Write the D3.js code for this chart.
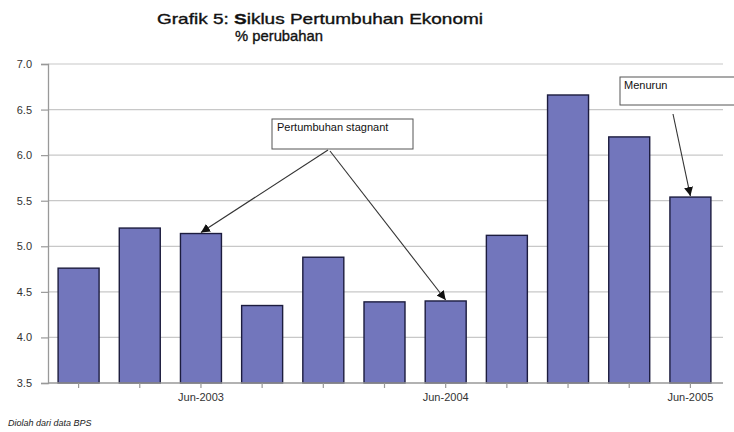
<!DOCTYPE html>
<html>
<head>
<meta charset="utf-8">
<script src="https://cdn.jsdelivr.net/npm/d3@7"></script>
<style>
  html, body { margin: 0; padding: 0; background: #fff; }
  svg { display: block; }
  .title { font-family: "Liberation Sans", Arial, sans-serif; fill: #111; stroke: #111; stroke-width: 0.35; }
  .tick text { font-family: "Liberation Sans", Arial, sans-serif; font-size: 11px; fill: #333; }
  .note { font-family: "Liberation Sans", Arial, sans-serif; font-size: 11px; fill: #111; }
</style>
</head>
<body>
<svg id="chart" width="734" height="432"></svg>
<script>
// Quarterly GDP growth, % change
const quarters = ["Dec-2002", "Mar-2003", "Jun-2003", "Sep-2003", "Dec-2003", "Mar-2004",
                  "Jun-2004", "Sep-2004", "Dec-2004", "Mar-2005", "Jun-2005"];
const growth = [4.76, 5.20, 5.14, 4.35, 4.88, 4.39, 4.40, 5.12, 6.66, 6.20, 5.54];
const shownLabels = ["Jun-2003", "Jun-2004", "Jun-2005"];
const yTicks = [3.5, 4.0, 4.5, 5.0, 5.5, 6.0, 6.5, 7.0];

const svg = d3.select("#chart");
const margin = { left: 48, right: 13, top: 64, bottom: 49 };
const W = 734, H = 432;

const x = d3.scaleBand().domain(quarters)
  .range([margin.left, W - margin.right]).paddingInner(0.33).paddingOuter(0.165);
const y = d3.scaleLinear().domain([3.5, 7.0]).range([H - margin.bottom, margin.top]);

// horizontal gridlines
svg.append("g").selectAll("line").data(yTicks.slice(1)).join("line")
  .attr("x1", margin.left).attr("x2", W - margin.right + 2)
  .attr("y1", d => y(d)).attr("y2", d => y(d))
  .attr("stroke", "#c8c8c8").attr("stroke-width", 1.2);

// bars
svg.append("g").selectAll("rect").data(growth).join("rect")
  .attr("x", (d, i) => x(quarters[i]))
  .attr("width", x.bandwidth())
  .attr("y", d => y(d))
  .attr("height", d => y(3.5) - y(d))
  .attr("fill", "#7276bc")
  .attr("stroke", "#1c1c3e").attr("stroke-width", 1.4);

// y axis
const yAxis = svg.append("g").attr("transform", `translate(${margin.left},0)`)
  .call(d3.axisLeft(y).tickValues(yTicks).tickFormat(d3.format(".1f")).tickSize(7).tickPadding(9));
yAxis.select(".domain").attr("stroke", "#999").attr("stroke-width", 1.3);
yAxis.selectAll(".tick line").attr("stroke", "#999").attr("stroke-width", 1.2);

// x axis
const xAxis = svg.append("g").attr("transform", `translate(0,${y(3.5)})`)
  .call(d3.axisBottom(x).tickSize(5).tickPadding(5)
    .tickFormat(d => shownLabels.includes(d) ? d : ""));
xAxis.select(".domain").attr("d", `M${margin.left},0H${W - margin.right + 2}`)
  .attr("stroke", "#999").attr("stroke-width", 1.3);
xAxis.selectAll(".tick line").attr("stroke", "#999").attr("stroke-width", 1.2);

// title
svg.append("text").attr("class", "title").attr("x", 157).attr("y", 24)
  .attr("font-size", 15).attr("textLength", 326).attr("lengthAdjust", "spacingAndGlyphs")
  .html('Grafik 5: <tspan font-weight="bold">S</tspan>iklus Pertumbuhan Ekonomi');
svg.append("text").attr("class", "title").attr("x", 235).attr("y", 41)
  .attr("font-size", 15).attr("textLength", 88).attr("lengthAdjust", "spacingAndGlyphs")
  .text("% perubahan");

// arrow marker
svg.append("defs").append("marker")
  .attr("id", "tip").attr("viewBox", "0 0 10 10").attr("refX", 10).attr("refY", 5)
  .attr("markerWidth", 9).attr("markerHeight", 9).attr("markerUnits", "userSpaceOnUse")
  .attr("orient", "auto")
  .append("path").attr("d", "M0,0L10,5L0,10Z").attr("fill", "#111");

function arrow(x1, y1, idx) {
  const tx = x(quarters[idx]) + x.bandwidth() / 2;
  const ty = y(growth[idx]) - 1;
  svg.append("line").attr("x1", x1).attr("y1", y1).attr("x2", tx).attr("y2", ty)
    .attr("stroke", "#333").attr("stroke-width", 1.1).attr("marker-end", "url(#tip)");
}

// annotation: stagnant growth
svg.append("rect").attr("x", 272).attr("y", 119).attr("width", 141).attr("height", 30)
  .attr("fill", "#fff").attr("stroke", "#555").attr("stroke-width", 1);
svg.append("text").attr("class", "note").attr("x", 277).attr("y", 131).text("Pertumbuhan stagnant");
arrow(328, 150, 2);
arrow(330, 151, 6);

// annotation: declining
svg.append("rect").attr("x", 620).attr("y", 77).attr("width", 130).attr("height", 28)
  .attr("fill", "#fff").attr("stroke", "#555").attr("stroke-width", 1);
svg.append("text").attr("class", "note").attr("x", 624).attr("y", 89).text("Menurun");
arrow(673, 114, 10);

// source note
svg.append("text").attr("x", 8).attr("y", 426)
  .attr("font-family", "Liberation Sans, Arial, sans-serif").attr("font-size", 9)
  .attr("font-style", "italic").attr("fill", "#222").text("Diolah dari data BPS");
</script>
</body>
</html>
